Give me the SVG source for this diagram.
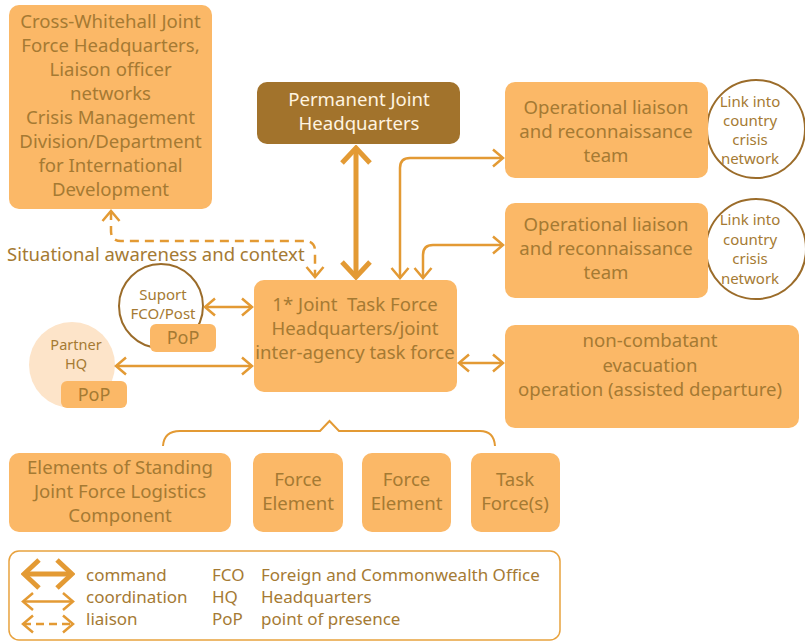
<svg xmlns="http://www.w3.org/2000/svg" width="805" height="642" viewBox="0 0 805 642">
<style>
.box{fill:#FBB867}
.t{font-family:"Noto Sans","Open Sans",sans-serif;font-size:18.6px;fill:#A57A33;text-anchor:middle}
.s{font-size:15px}
.lg{font-family:"Noto Sans","Open Sans",sans-serif;font-size:17px;fill:#A57A33}
.ln{fill:none;stroke:#E39A34;stroke-width:2.5}
.cmd{fill:none;stroke:#E39A34;stroke-width:5}
.dash{fill:none;stroke:#E39A34;stroke-width:2.5;stroke-dasharray:9 6}
.ring{fill:#fff;stroke:#9B6C2A;stroke-width:2}
</style>
<defs>
<marker id="ah" viewBox="0 0 14 20" refX="12" refY="10" markerWidth="14" markerHeight="20" markerUnits="userSpaceOnUse" orient="auto-start-reverse">
<path d="M2,1.5 L12,10 L2,18.5" fill="none" stroke="#E39A34" stroke-width="2.5"/>
</marker>
<marker id="ahc" viewBox="0 0 20 32" refX="17" refY="16" markerWidth="20" markerHeight="32" markerUnits="userSpaceOnUse" orient="auto-start-reverse">
<path d="M2,2 L17,16 L2,30" fill="none" stroke="#E39A34" stroke-width="5"/>
</marker>
</defs>

<g id="cross-whitehall">
<rect class="box" x="9" y="5" width="203" height="204" rx="10"/>
<text class="t" x="110.5" y="28">Cross-Whitehall Joint</text>
<text class="t" x="110.5" y="52">Force Headquarters,</text>
<text class="t" x="110.5" y="76">Liaison officer</text>
<text class="t" x="110.5" y="100">networks</text>
<text class="t" x="110.5" y="124">Crisis Management</text>
<text class="t" x="110.5" y="148">Division/Department</text>
<text class="t" x="110.5" y="172">for International</text>
<text class="t" x="110.5" y="196">Development</text>
</g>

<g id="pjhq">
<rect x="257" y="82" width="203" height="62" rx="10" fill="#A2732C"/>
<text class="t" x="359" y="106" style="fill:#FFF4E0">Permanent Joint</text>
<text class="t" x="359" y="130" style="fill:#FFF4E0">Headquarters</text>
</g>

<g id="link1">
<circle class="ring" cx="756" cy="129" r="49"/>
<text class="t s" x="750" y="107">Link into</text>
<text class="t s" x="750" y="126">country</text>
<text class="t s" x="750" y="145">crisis</text>
<text class="t s" x="750" y="164">network</text>
</g>
<g id="olrt1">
<rect class="box" x="505" y="82" width="203" height="96" rx="10"/>
<text class="t" x="606" y="114">Operational liaison</text>
<text class="t" x="606" y="138">and reconnaissance</text>
<text class="t" x="606" y="162">team</text>
</g>

<g id="link2">
<circle class="ring" cx="756" cy="249" r="50"/>
<text class="t s" x="750" y="225">Link into</text>
<text class="t s" x="750" y="244.5">country</text>
<text class="t s" x="750" y="264">crisis</text>
<text class="t s" x="750" y="283.5">network</text>
</g>
<g id="olrt2">
<rect class="box" x="505" y="203" width="203" height="95" rx="10"/>
<text class="t" x="606" y="230.5">Operational liaison</text>
<text class="t" x="606" y="254.5">and reconnaissance</text>
<text class="t" x="606" y="278.5">team</text>
</g>

<g id="jtfhq">
<rect class="box" x="254" y="280" width="203" height="112" rx="10"/>
<text class="t" x="355" y="310.5">1* Joint&#160; Task Force</text>
<text class="t" x="355" y="334.5">Headquarters/joint</text>
<text class="t" x="355" y="358.5">inter-agency task force</text>
</g>

<g id="neo">
<rect class="box" x="505" y="325" width="294" height="103" rx="10"/>
<text class="t" x="650" y="347">non-combatant</text>
<text class="t" x="650" y="371.5">evacuation</text>
<text class="t" x="650" y="395.5">operation (assisted departure)</text>
</g>

<g id="support-fco">
<circle class="ring" cx="161" cy="306" r="42"/>
<text class="t s" x="163" y="299.5">Suport</text>
<text class="t s" x="163" y="318.5">FCO/Post</text>
<rect class="box" x="150" y="324" width="66" height="28" rx="6"/>
<text class="t" x="183" y="343.5" style="font-size:18px">PoP</text>
</g>

<g id="partner-hq">
<circle cx="72" cy="365" r="43" fill="#FDE4C9"/>
<text class="t" x="76" y="350" style="font-size:14.5px">Partner</text>
<text class="t" x="76" y="369" style="font-size:14.5px">HQ</text>
<rect class="box" x="61" y="381" width="66" height="27" rx="6"/>
<text class="t" x="94" y="400.5" style="font-size:18px">PoP</text>
</g>

<g id="elements">
<rect class="box" x="9" y="453" width="222" height="79" rx="10"/>
<text class="t" x="120" y="474">Elements of Standing</text>
<text class="t" x="120" y="498">Joint Force Logistics</text>
<text class="t" x="120" y="522">Component</text>
</g>
<g id="force1">
<rect class="box" x="253" y="453" width="90" height="79" rx="10"/>
<text class="t" x="298" y="486">Force</text>
<text class="t" x="298" y="510">Element</text>
</g>
<g id="force2">
<rect class="box" x="362" y="453" width="89" height="79" rx="10"/>
<text class="t" x="406.5" y="486">Force</text>
<text class="t" x="406.5" y="510">Element</text>
</g>
<g id="taskforces">
<rect class="box" x="471" y="453" width="89" height="79" rx="10"/>
<text class="t" x="515" y="486">Task</text>
<text class="t" x="515" y="510">Force(s)</text>
</g>

<g id="connectors">
<path class="cmd" d="M356,148 V277" marker-start="url(#ahc)" marker-end="url(#ahc)"/>
<path class="ln" d="M400,278 V168 Q400,158 410,158 H503" marker-start="url(#ah)" marker-end="url(#ah)"/>
<path class="ln" d="M423,278 V255 Q423,245 433,245 H503" marker-start="url(#ah)" marker-end="url(#ah)"/>
<path class="dash" d="M111,211 V231 Q111,241 121,241 H305 Q315,241 315,251 V277" marker-start="url(#ah)" marker-end="url(#ah)"/>
<path class="ln" d="M205,307 H252" marker-start="url(#ah)" marker-end="url(#ah)"/>
<path class="ln" d="M116,366 H252" marker-start="url(#ah)" marker-end="url(#ah)"/>
<path class="ln" d="M459,363 H503" marker-start="url(#ah)" marker-end="url(#ah)"/>
<path fill="none" stroke="#E39A34" stroke-width="2" d="M163,446 Q164,431 180,431 H320 L329.5,421 L339,431 H480 Q494,431 495,446"/>
</g>

<text class="t" x="7" y="260.5" style="text-anchor:start;font-size:18.5px">Situational awareness and context</text>

<g id="legend">
<rect x="9" y="551" width="551" height="89" rx="10" fill="none" stroke="#E8A23E" stroke-width="1.5"/>
<path class="cmd" d="M24,574 H72" marker-start="url(#ahc)" marker-end="url(#ahc)"/>
<path class="ln" d="M23,601.5 H73" marker-start="url(#ah)" marker-end="url(#ah)"/>
<path class="dash" d="M23,624 H73" marker-start="url(#ah)" marker-end="url(#ah)" style="stroke-dasharray:8 5"/>
<text class="lg" x="86" y="581">command</text>
<text class="lg" x="86" y="603">coordination</text>
<text class="lg" x="86" y="625">liaison</text>
<text class="lg" x="212" y="581">FCO</text>
<text class="lg" x="212" y="603">HQ</text>
<text class="lg" x="212" y="625">PoP</text>
<text class="lg" x="261" y="581">Foreign and Commonwealth Office</text>
<text class="lg" x="261" y="603">Headquarters</text>
<text class="lg" x="261" y="625">point of presence</text>
</g>
</svg>
